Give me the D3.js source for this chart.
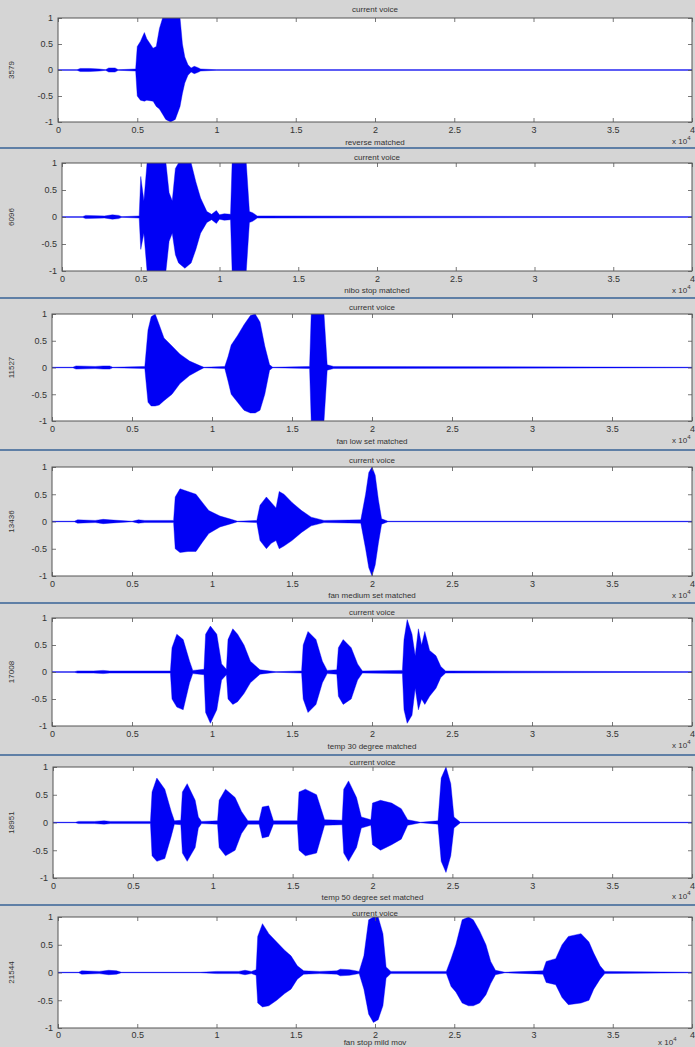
<!DOCTYPE html>
<html><head><meta charset="utf-8">
<script src="https://cdn.jsdelivr.net/npm/d3@7"></script>
<style>
html,body{margin:0;padding:0;background:#d5d5d5;}
svg{display:block;}
text{font-family:"Liberation Sans",Arial,sans-serif;}
</style></head>
<body>
<svg id="chart" width="695" height="1047"></svg>
<script>
// ---------- data (x in units of 10^4 samples; [x, upper, lower]) ----------
const titles = ["current voice","current voice","current voice","current voice","current voice","current voice","current voice"];
const yLabels = ["3579","6096","11527","13436","17008","18951","21544"];
const xLabels = ["reverse matched","nibo stop matched","fan low set matched","fan medium set matched","temp 30 degree matched","temp 50 degree set matched","fan stop mild mov"];
const xTicks = [0,0.5,1,1.5,2,2.5,3,3.5,4];
const xTickLabels = ["0","0.5","1","1.5","2","2.5","3","3.5","4"];
const yTicks = [-1,-0.5,0,0.5,1];
const yTickLabels = ["-1","-0.5","0","0.5","1"];

const env1 = [[0,0.005,-0.005],[0.12,0.005,-0.005],[0.14,0.03,-0.03],[0.2,0.03,-0.03],[0.26,0.02,-0.02],[0.3,0.005,-0.005],[0.32,0.04,-0.04],[0.36,0.04,-0.04],[0.38,0.005,-0.005],[0.49,0.02,-0.02],[0.5,0.45,-0.5],[0.52,0.55,-0.58],[0.545,0.72,-0.6],[0.56,0.6,-0.58],[0.6,0.42,-0.6],[0.62,0.45,-0.7],[0.64,0.8,-0.75],[0.66,1,-0.85],[0.68,1,-0.95],[0.71,1,-1],[0.74,1,-0.95],[0.77,1,-0.7],[0.785,0.5,-0.45],[0.8,0.25,-0.25],[0.82,0.1,-0.1],[0.84,0.04,-0.04],[0.86,0.07,-0.07],[0.88,0.05,-0.05],[0.9,0.02,-0.02],[1.0,0.005,-0.005],[4,0.005,-0.005]];
const env2 = [[0,0.005,-0.005],[0.13,0.005,-0.005],[0.15,0.03,-0.03],[0.27,0.02,-0.02],[0.32,0.04,-0.04],[0.36,0.03,-0.03],[0.38,0.005,-0.005],[0.49,0.02,-0.02],[0.5,0.75,-0.6],[0.52,0.3,-0.3],[0.54,1,-1],[0.66,1,-1],[0.68,0.45,-0.45],[0.7,0.3,-0.3],[0.72,0.9,-0.7],[0.74,1,-0.85],[0.78,1,-0.95],[0.82,1,-0.85],[0.85,0.65,-0.6],[0.88,0.35,-0.3],[0.92,0.1,-0.1],[0.95,0.05,-0.05],[0.98,0.12,-0.12],[1.0,0.04,-0.04],[1.03,0.06,-0.06],[1.07,0.05,-0.05],[1.08,1,-1],[1.17,1,-1],[1.19,0.1,-0.1],[1.21,0.08,-0.08],[1.24,0.02,-0.02],[4,0.005,-0.005]];
const env3 = [[0,0.005,-0.005],[0.13,0.005,-0.005],[0.15,0.03,-0.03],[0.27,0.02,-0.02],[0.32,0.03,-0.03],[0.36,0.03,-0.03],[0.38,0.005,-0.005],[0.58,0.02,-0.02],[0.6,0.7,-0.65],[0.62,0.95,-0.72],[0.645,1,-0.72],[0.67,0.8,-0.7],[0.7,0.55,-0.62],[0.75,0.4,-0.5],[0.8,0.25,-0.3],[0.86,0.12,-0.15],[0.92,0.04,-0.05],[0.95,0.005,-0.005],[1.08,0.02,-0.02],[1.1,0.2,-0.25],[1.12,0.42,-0.5],[1.16,0.6,-0.65],[1.2,0.8,-0.8],[1.24,0.97,-0.85],[1.27,1,-0.85],[1.3,0.85,-0.8],[1.33,0.4,-0.5],[1.36,0.05,-0.05],[1.38,0.005,-0.005],[1.61,0.02,-0.02],[1.62,1,-1],[1.7,1,-1],[1.72,0.05,-0.05],[1.76,0.02,-0.02],[4,0.005,-0.005]];
const env4 = [[0,0.005,-0.005],[0.14,0.005,-0.005],[0.16,0.03,-0.03],[0.27,0.02,-0.02],[0.32,0.04,-0.04],[0.36,0.03,-0.03],[0.5,0.005,-0.005],[0.54,0.03,-0.03],[0.58,0.02,-0.02],[0.76,0.02,-0.02],[0.77,0.45,-0.5],[0.8,0.6,-0.57],[0.85,0.55,-0.55],[0.9,0.5,-0.55],[0.94,0.35,-0.38],[0.98,0.2,-0.22],[1.05,0.1,-0.1],[1.12,0.04,-0.04],[1.16,0.005,-0.005],[1.28,0.02,-0.02],[1.3,0.3,-0.35],[1.34,0.45,-0.5],[1.37,0.35,-0.4],[1.4,0.25,-0.35],[1.42,0.55,-0.5],[1.45,0.5,-0.45],[1.5,0.35,-0.35],[1.56,0.2,-0.2],[1.62,0.08,-0.08],[1.7,0.02,-0.02],[1.93,0.03,-0.03],[1.96,0.5,-0.5],[1.98,0.9,-0.85],[2.0,1,-1],[2.02,0.85,-0.8],[2.04,0.4,-0.4],[2.06,0.05,-0.05],[2.1,0.005,-0.005],[4,0.005,-0.005]];
const env5 = [[0,0.005,-0.005],[0.14,0.005,-0.005],[0.16,0.02,-0.02],[0.26,0.02,-0.02],[0.32,0.03,-0.03],[0.36,0.02,-0.02],[0.74,0.02,-0.02],[0.75,0.45,-0.5],[0.78,0.7,-0.65],[0.82,0.6,-0.7],[0.86,0.2,-0.2],[0.88,0.03,-0.03],[0.95,0.05,-0.05],[0.96,0.7,-0.75],[0.99,0.85,-0.95],[1.03,0.7,-0.7],[1.06,0.15,-0.15],[1.09,0.05,-0.05],[1.1,0.6,-0.5],[1.13,0.8,-0.6],[1.16,0.7,-0.55],[1.2,0.5,-0.4],[1.24,0.2,-0.2],[1.3,0.04,-0.04],[1.4,0.005,-0.005],[1.56,0.02,-0.02],[1.57,0.5,-0.5],[1.6,0.75,-0.75],[1.65,0.6,-0.6],[1.69,0.2,-0.2],[1.72,0.03,-0.03],[1.78,0.04,-0.04],[1.79,0.45,-0.45],[1.82,0.6,-0.6],[1.87,0.45,-0.5],[1.91,0.15,-0.15],[1.94,0.02,-0.02],[2.19,0.03,-0.03],[2.2,0.6,-0.7],[2.22,0.97,-0.95],[2.25,0.7,-0.8],[2.27,0.3,-0.3],[2.29,0.8,-0.7],[2.31,0.5,-0.5],[2.33,0.75,-0.6],[2.36,0.4,-0.45],[2.4,0.3,-0.3],[2.43,0.1,-0.1],[2.46,0.02,-0.02],[4,0.005,-0.005]];
const env6 = [[0,0.005,-0.005],[0.14,0.005,-0.005],[0.16,0.02,-0.02],[0.26,0.02,-0.02],[0.32,0.03,-0.03],[0.36,0.02,-0.02],[0.61,0.02,-0.02],[0.62,0.55,-0.6],[0.65,0.8,-0.7],[0.7,0.6,-0.65],[0.74,0.2,-0.25],[0.76,0.03,-0.03],[0.8,0.04,-0.04],[0.81,0.55,-0.55],[0.84,0.7,-0.7],[0.89,0.4,-0.45],[0.91,0.1,-0.1],[0.93,0.02,-0.02],[1.03,0.03,-0.03],[1.04,0.4,-0.45],[1.08,0.6,-0.6],[1.14,0.45,-0.5],[1.18,0.2,-0.2],[1.22,0.03,-0.03],[1.29,0.03,-0.03],[1.31,0.28,-0.28],[1.35,0.3,-0.25],[1.38,0.03,-0.03],[1.53,0.03,-0.03],[1.54,0.55,-0.5],[1.58,0.6,-0.6],[1.65,0.5,-0.55],[1.7,0.05,-0.05],[1.81,0.04,-0.04],[1.82,0.6,-0.55],[1.85,0.75,-0.7],[1.9,0.45,-0.45],[1.93,0.1,-0.1],[1.99,0.05,-0.05],[2.0,0.35,-0.4],[2.05,0.4,-0.5],[2.12,0.35,-0.4],[2.18,0.25,-0.3],[2.22,0.05,-0.05],[2.3,0.005,-0.005],[2.41,0.03,-0.03],[2.43,0.8,-0.7],[2.46,1,-0.9],[2.49,0.7,-0.6],[2.51,0.1,-0.1],[2.55,0.005,-0.005],[4,0.005,-0.005]];
const env7 = [[0,0.005,-0.005],[0.13,0.005,-0.005],[0.15,0.03,-0.03],[0.26,0.02,-0.02],[0.32,0.04,-0.04],[0.37,0.03,-0.03],[0.4,0.005,-0.005],[0.9,0.005,-0.005],[1.0,0.02,-0.02],[1.14,0.02,-0.02],[1.18,0.04,-0.04],[1.22,0.02,-0.02],[1.25,0.05,-0.05],[1.26,0.65,-0.55],[1.29,0.88,-0.62],[1.33,0.7,-0.6],[1.38,0.55,-0.5],[1.43,0.4,-0.38],[1.47,0.3,-0.3],[1.51,0.12,-0.12],[1.55,0.03,-0.03],[1.65,0.02,-0.02],[1.76,0.03,-0.03],[1.78,0.06,-0.06],[1.84,0.05,-0.05],[1.9,0.02,-0.02],[1.93,0.3,-0.3],[1.96,0.95,-0.75],[1.99,1,-0.9],[2.02,1,-0.85],[2.05,0.7,-0.6],[2.07,0.1,-0.1],[2.1,0.02,-0.02],[2.45,0.02,-0.02],[2.48,0.25,-0.25],[2.51,0.5,-0.35],[2.55,0.95,-0.55],[2.59,1,-0.6],[2.62,0.95,-0.6],[2.66,0.75,-0.55],[2.7,0.5,-0.4],[2.73,0.2,-0.2],[2.76,0.04,-0.04],[2.82,0.005,-0.005],[3.06,0.03,-0.03],[3.08,0.2,-0.18],[3.14,0.25,-0.22],[3.18,0.5,-0.45],[3.22,0.65,-0.58],[3.3,0.7,-0.55],[3.35,0.55,-0.5],[3.38,0.35,-0.3],[3.42,0.12,-0.12],[3.45,0.02,-0.02],[4,0.005,-0.005]];
const envelopes = [env1,env2,env3,env4,env5,env6,env7];

// ---------- layout ----------
const layout = [
  {top:18, bottom:122, left:58, title:9, tick:133, xl:143, sep:148, mx:672, my:144},
  {top:163, bottom:271, left:62, title:157, tick:282, xl:291, sep:298, mx:672, my:293},
  {top:314, bottom:421, left:52, title:307, tick:432, xl:442, sep:450, mx:672, my:443},
  {top:467, bottom:576, left:52, title:460, tick:587, xl:596, sep:603, mx:672, my:598},
  {top:618, bottom:726, left:52, title:612, tick:737, xl:747, sep:755, mx:672, my:748},
  {top:767, bottom:878, left:53, title:762, tick:888, xl:898, sep:905, mx:672, my:899},
  {top:917, bottom:1028, left:58, title:913, tick:1031, xl:1043, sep:null, mx:658, my:1045}
];
const RIGHT = 692;
const svg = d3.select("#chart");
svg.append("rect").attr("width",695).attr("height",1047).attr("fill","#d5d5d5");

layout.forEach((L, i) => {
  const x = d3.scaleLinear().domain([0,4]).range([L.left, RIGHT]);
  const y = d3.scaleLinear().domain([-1,1]).range([L.bottom, L.top]);
  const g = svg.append("g");
  const cx = (L.left + RIGHT) / 2;

  if (L.sep !== null) {
    svg.append("line").attr("x1",0).attr("x2",695).attr("y1",L.sep).attr("y2",L.sep)
      .attr("stroke","#5f7fa6").attr("stroke-width",2);
  }
  g.append("text").attr("x",cx).attr("y",L.title+3).attr("text-anchor","middle")
    .attr("font-size",8).attr("fill","#333").text(titles[i]);

  g.append("rect").attr("x",L.left).attr("y",L.top).attr("width",RIGHT-L.left).attr("height",L.bottom-L.top)
    .attr("fill","#fff");

  const clipId = "clip"+i;
  svg.append("clipPath").attr("id",clipId).append("rect")
    .attr("x",L.left).attr("y",L.top).attr("width",RIGHT-L.left).attr("height",L.bottom-L.top);

  g.append("line").attr("x1",L.left).attr("x2",RIGHT).attr("y1",y(0)).attr("y2",y(0))
    .attr("stroke","#4a4ae0").attr("stroke-width",0.8).attr("opacity",0.8);
  const area = d3.area().x(d=>x(d[0])).y0(d=>y(d[2])).y1(d=>y(d[1]));
  g.append("path").datum(envelopes[i]).attr("clip-path","url(#"+clipId+")")
    .attr("d",area).attr("fill","#0000f5").attr("stroke","#0000f5").attr("stroke-width",0.4);

  const ax = g.append("g").attr("transform",`translate(0,${L.bottom})`)
    .call(d3.axisBottom(x).tickValues(xTicks).tickFormat((d,k)=>xTickLabels[k]).tickSizeInner(-4).tickSizeOuter(0).tickPadding(5));
  const axTop = g.append("g").attr("transform",`translate(0,${L.top})`)
    .call(d3.axisTop(x).tickValues(xTicks).tickFormat("").tickSizeInner(-4).tickSizeOuter(0));
  const ay = g.append("g").attr("transform",`translate(${L.left},0)`)
    .call(d3.axisLeft(y).tickValues(yTicks).tickFormat((d,k)=>yTickLabels[k]).tickSizeInner(-4).tickSizeOuter(0).tickPadding(5));
  const ayR = g.append("g").attr("transform",`translate(${RIGHT},0)`)
    .call(d3.axisRight(y).tickValues(yTicks).tickFormat("").tickSizeInner(-4).tickSizeOuter(0));
  [ax,axTop,ay,ayR].forEach(a=>{
    a.selectAll(".domain").remove();
    a.selectAll("line").attr("stroke","#555").attr("stroke-width",0.8);
    a.selectAll("text").attr("font-size",9).attr("fill","#333").attr("font-family","Liberation Sans, Arial, sans-serif");
  });
  if (i === 6) ax.selectAll("text").attr("dy","0.5em");
  g.append("rect").attr("x",L.left).attr("y",L.top).attr("width",RIGHT-L.left).attr("height",L.bottom-L.top)
    .attr("fill","none").attr("stroke","#555").attr("stroke-width",1);

  g.append("text").attr("transform",`translate(${14},${(L.top+L.bottom)/2}) rotate(-90)`)
    .attr("text-anchor","middle").attr("font-size",8).attr("fill","#333").text(yLabels[i]);
  g.append("text").attr("x",cx).attr("y",L.xl+2).attr("text-anchor","middle")
    .attr("font-size",8).attr("fill","#333").text(xLabels[i]);
  const m = g.append("text").attr("x",L.mx).attr("y",L.my).attr("font-size",8).attr("fill","#333");
  m.append("tspan").text("x 10");
  m.append("tspan").attr("dy",-4).attr("font-size",6).text("4");
});
</script>
</body></html>
